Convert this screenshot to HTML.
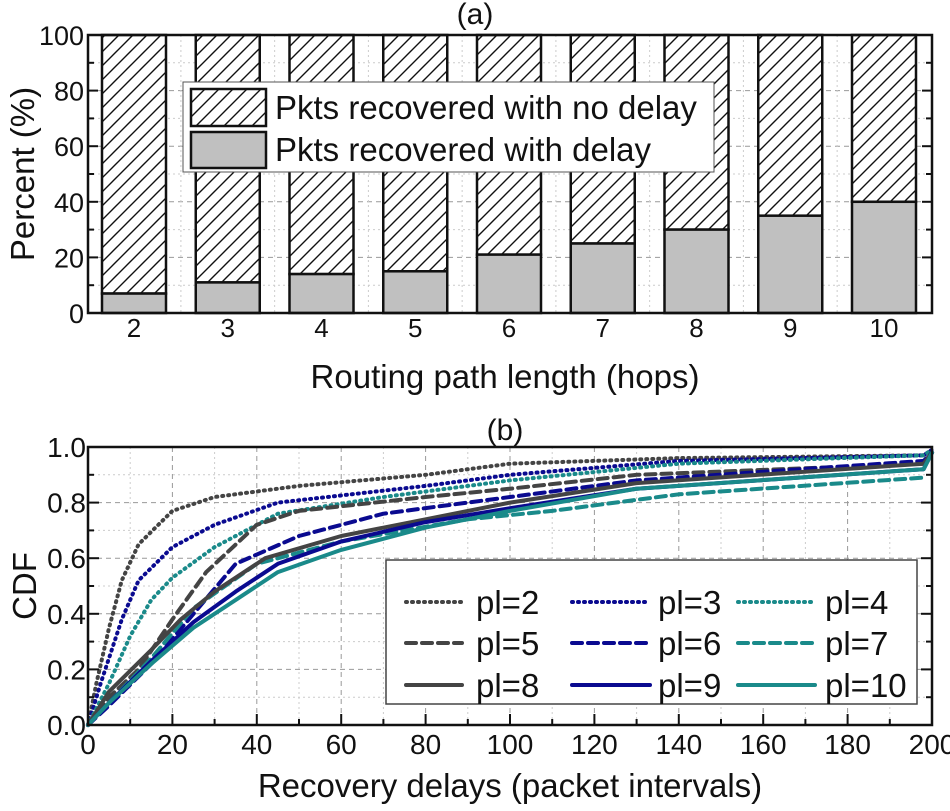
<!DOCTYPE html>
<html><head><meta charset="utf-8"><style>
body{margin:0;background:#fff}
svg text{font-family:"Liberation Sans",Arial,sans-serif;fill:#111}
</style></head><body>
<svg id="s" width="950" height="806" xmlns="http://www.w3.org/2000/svg">
<defs>
<pattern id="h" patternUnits="userSpaceOnUse" width="14" height="14">
<rect width="14" height="14" fill="#fff"/>
<path d="M-2,16 L16,-2 M-2,2 L2,-2 M12,16 L16,12" stroke="#111" stroke-width="1.4"/>
</pattern>
</defs>
<g id="top"></g>
<g id="bot"></g>
</svg>
<script>
const NS="http://www.w3.org/2000/svg";
function el(p,t,a,txt){const e=document.createElementNS(NS,t);for(const k in a)e.setAttribute(k,a[k]);if(txt!==undefined)e.textContent=txt;p.appendChild(e);return e;}
const T=document.getElementById('top'),B=document.getElementById('bot');
// ---- top chart
const L=88,R=932,Y0=313,Y1=35;const yT=v=>Y0-(Y0-Y1)*v/100;
for(let v=10;v<100;v+=10){el(T,'line',{x1:L,x2:R,y1:yT(v),y2:yT(v),stroke:v%20?'#ccc':'#999','stroke-dasharray':v%20?'2,3':'5,4','stroke-width':1});}
const vals=[7,11,14,15,21,25,30,35,40];
for(let i=0;i<9;i++){const c=134+93.75*i;
 if(i<8){const gx=c+46.9;el(T,'line',{x1:gx,x2:gx,y1:Y1,y2:Y0,stroke:'#ccc','stroke-dasharray':'2,3'});}
 el(T,'rect',{x:c-32,y:Y1,width:64,height:yT(vals[i])-Y1,fill:'url(#h)',stroke:'#111','stroke-width':2.5});
 el(T,'rect',{x:c-32,y:yT(vals[i]),width:64,height:Y0-yT(vals[i]),fill:'#c0c0c0',stroke:'#111','stroke-width':2.5});
 el(T,'text',{x:c,y:337,'font-size':26,'text-anchor':'middle'},String(i+2));}
el(T,'rect',{x:L,y:Y1,width:R-L,height:Y0-Y1,fill:'none',stroke:'#111','stroke-width':2.5});
for(let v=0;v<=100;v+=10){el(T,'line',{x1:L,x2:L+(v%20?6:10),y1:yT(v),y2:yT(v),stroke:'#111','stroke-width':2});el(T,'line',{x1:R,x2:R-(v%20?6:10),y1:yT(v),y2:yT(v),stroke:'#111','stroke-width':2});
 if(v%20==0)el(T,'text',{x:84,y:yT(v)+10,'font-size':27,'text-anchor':'end'},String(v));}
el(T,'text',{x:475,y:24,'font-size':30,'text-anchor':'middle'},'(a)');
el(T,'text',{x:505,y:388,'font-size':33,'text-anchor':'middle'},'Routing path length (hops)');
el(T,'text',{x:0,y:0,'font-size':33,'text-anchor':'middle',transform:'translate(34,174) rotate(-90)'},'Percent (%)');
el(T,'rect',{x:183,y:82,width:531,height:90,fill:'#fff',stroke:'#555','stroke-width':1});
el(T,'rect',{x:191,y:89,width:75,height:37,fill:'url(#h)',stroke:'#111','stroke-width':2.5});
el(T,'rect',{x:191,y:132,width:75,height:36,fill:'#c0c0c0',stroke:'#111','stroke-width':2.5});
el(T,'text',{x:275,y:119,'font-size':33},'Pkts recovered with no delay');
el(T,'text',{x:275,y:161,'font-size':33},'Pkts recovered with delay');
// ---- bottom chart
const BL=88,BR=932,BY0=725,BY1=447;const bx=v=>BL+(BR-BL)*v/200,by=v=>BY0-(BY0-BY1)*v;
for(let v=10;v<200;v+=10){el(B,'line',{x1:bx(v),x2:bx(v),y1:BY1,y2:BY0,stroke:v%20?'#ccc':'#999','stroke-dasharray':v%20?'2,3':'5,4'});}
for(let i=1;i<10;i++){el(B,'line',{x1:BL,x2:BR,y1:by(i/10),y2:by(i/10),stroke:i%2?'#ccc':'#999','stroke-dasharray':i%2?'2,3':'5,4'});}
const C={g:'#444',b:'#0a0a90',t:'#1a8a8a'};
const curves=[
[C.g,'1,5',[[0,0],[2,.15],[5,.35],[8,.52],[12,.65],[20,.77],[30,.82],[50,.86],[80,.9],[100,.94],[140,.96],[198,.97],[200,.99]]],
[C.b,'1,5',[[0,0],[3,.15],[8,.38],[12,.52],[20,.64],[30,.72],[45,.8],[80,.86],[100,.9],[140,.95],[198,.97],[200,.99]]],
[C.t,'1,5',[[0,0],[5,.15],[10,.32],[15,.45],[20,.53],[30,.64],[45,.76],[70,.82],[100,.88],[140,.94],[198,.97],[200,.99]]],
[C.g,'10,6',[[0,0],[5,.1],[12,.2],[20,.38],[28,.55],[40,.72],[50,.77],[80,.82],[100,.85],[130,.9],[198,.94],[200,.98]]],
[C.b,'10,6',[[0,0],[5,.07],[15,.22],[25,.4],[35,.58],[50,.68],[70,.76],[100,.82],[130,.88],[198,.95],[200,.98]]],
[C.t,'10,6',[[0,0],[5,.08],[15,.24],[25,.42],[40,.58],[60,.66],[90,.74],[110,.77],[140,.83],[198,.89]]],
[C.g,'',[[0,0],[5,.12],[15,.27],[22,.38],[30,.48],[42,.6],[60,.68],[80,.74],[100,.8],[130,.87],[198,.94],[200,.98]]],
[C.b,'',[[0,0],[5,.08],[15,.23],[25,.37],[35,.48],[45,.58],[60,.66],[80,.73],[100,.78],[130,.85],[198,.92],[200,.98]]],
[C.t,'',[[0,0],[5,.08],[15,.22],[25,.35],[35,.45],[45,.55],[60,.63],[80,.71],[100,.77],[130,.85],[198,.92],[200,.98]]]];
for(const [c,d,p] of curves){const a={d:'M'+p.map(q=>bx(q[0]).toFixed(1)+','+by(q[1]).toFixed(1)).join(' L'),fill:'none',stroke:c,'stroke-width':4,'stroke-linecap':'round','stroke-linejoin':'round'};if(d)a['stroke-dasharray']=d;el(B,'path',a);}
el(B,'rect',{x:BL,y:BY1,width:BR-BL,height:BY0-BY1,fill:'none',stroke:'#111','stroke-width':2.5});
for(let v=0;v<=200;v+=10){const k=v%20?6:11;el(B,'line',{x1:bx(v),x2:bx(v),y1:BY0,y2:BY0-k,stroke:'#111','stroke-width':2});
 if(v%20==0)el(B,'text',{x:bx(v),y:754,'font-size':28,'text-anchor':'middle'},String(v));}
for(let i=0;i<=10;i++){const k=i%2?6:11;el(B,'line',{x1:BL,x2:BL+k,y1:by(i/10),y2:by(i/10),stroke:'#111','stroke-width':2});el(B,'line',{x1:BR,x2:BR-k,y1:by(i/10),y2:by(i/10),stroke:'#111','stroke-width':2});
 if(i%2==0)el(B,'text',{x:86,y:by(i/10)+10,'font-size':28,'text-anchor':'end'},(i/10).toFixed(1));}
el(B,'text',{x:505,y:440,'font-size':30,'text-anchor':'middle'},'(b)');
el(B,'text',{x:510,y:797,'font-size':33,'text-anchor':'middle'},'Recovery delays (packet intervals)');
el(B,'text',{x:0,y:0,'font-size':33,'text-anchor':'middle',transform:'translate(36,586) rotate(-90)'},'CDF');
el(B,'rect',{x:386,y:560,width:531,height:144,fill:'#fff',stroke:'#444','stroke-width':1.5});
const cols=[[406,462,476],[572,650,658],[738,815,825]],rows=[602,643,685],dsh=['1,5','10,6',''];
for(let r=0;r<3;r++)for(let c=0;c<3;c++){const cc=[C.g,C.b,C.t][c];const a={x1:cols[c][0],x2:cols[c][1],y1:rows[r],y2:rows[r],stroke:cc,'stroke-width':4,'stroke-linecap':'round'};if(dsh[r])a['stroke-dasharray']=dsh[r];el(B,'line',a);
 el(B,'text',{x:cols[c][2],y:rows[r]+12,'font-size':33},'pl='+(r*3+c+2));}
</script>
</body></html>
